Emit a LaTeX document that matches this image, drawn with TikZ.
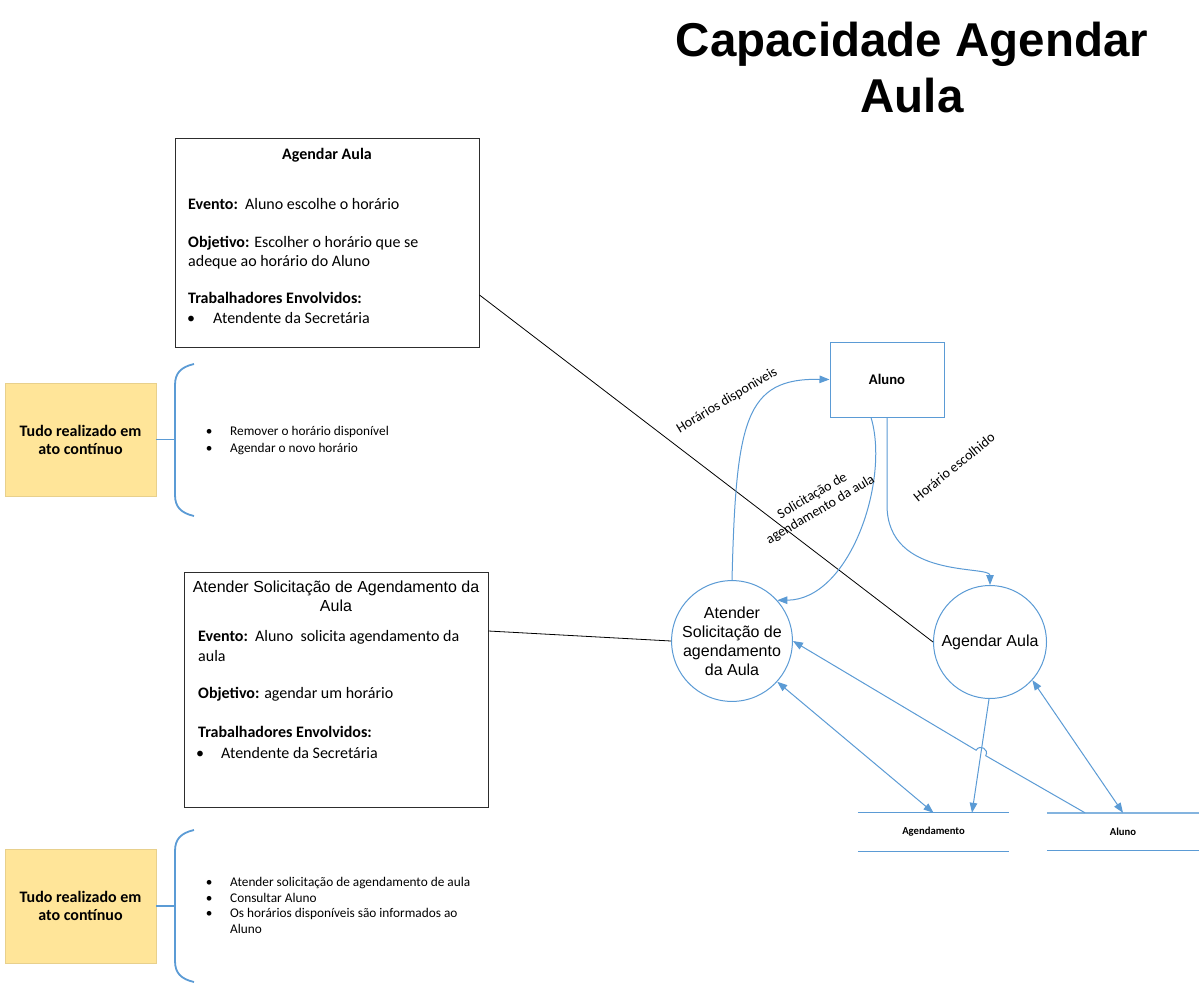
\documentclass[tikz,border=0pt]{standalone}
\usepackage{fontspec}
\setmainfont{Carlito}
\newfontfamily\arialf{Liberation Sans}
\usetikzlibrary{arrows.meta,calc}
\definecolor{flowblue}{RGB}{91,155,213}
\definecolor{boxgray}{RGB}{45,45,45}
\definecolor{noteyellow}{RGB}{255,229,153}
\definecolor{noteedge}{RGB}{232,208,140}
\newcommand{\bulitem}[2]{\makebox[0pt][c]{•}\hspace{#1}#2}
\begin{document}
\begin{tikzpicture}[x=1pt,y=-1pt,
  box/.style={draw=boxgray, line width=1pt, inner sep=0pt, fill=white},
  txt/.style={anchor=base west, inner sep=0pt, font=\fontsize{16}{19.5}\selectfont},
  ttl/.style={anchor=base, inner sep=0pt, font=\fontsize{16}{19.5}\selectfont\bfseries},
  atl/.style={anchor=base, inner sep=0pt, font=\arialf\fontsize{16}{19}\selectfont},
  note/.style={draw=noteedge, fill=noteyellow, line width=0.8pt, align=center, inner sep=0pt,
    font=\fontsize{16}{18}\selectfont\bfseries, minimum width=151pt},
  small/.style={anchor=base west, inner sep=0pt, font=\fontsize{13.3}{16}\selectfont},
  proc/.style={circle, draw=flowblue, line width=1pt, inner sep=0pt, align=center, fill=white,
    font=\arialf\fontsize{16}{19}\selectfont},
  ent/.style={draw=flowblue, line width=1pt, inner sep=0pt, fill=white,
    font=\fontsize{14.67}{16}\selectfont\bfseries},
  store/.style={inner sep=0pt, font=\fontsize{10.67}{12}\selectfont\bfseries},
  storeline/.style={draw=flowblue, line width=1.1pt},
  flow/.style={draw=flowblue, line width=1pt},
  tip/.style={-{Triangle[length=10pt,width=7.5pt]}},
  dtip/.style={{Triangle[length=10pt,width=7.5pt]}-{Triangle[length=10pt,width=7.5pt]}},
  conn/.style={draw=black, line width=0.8pt},
  brace/.style={draw=flowblue, line width=1.8pt},
  lbl/.style={inner sep=0pt, align=center, font=\fontsize{14}{16}\selectfont},
  bigtitle/.style={anchor=base, inner sep=0pt, font=\arialf\fontsize{47.5}{56}\selectfont\bfseries}
]
\useasboundingbox (0,0) rectangle (1199,990);
\fill[white] (0,0) rectangle (1199,990);

% Title
\node[bigtitle] (t1) at (912,56.7) {Capacidade Agendar};
\node[bigtitle] (t2) at (912,112.7) {Aula};

% Box 1
\node[box, minimum width=304pt, minimum height=209pt] (b1) at (327,242.5) {};
\node[ttl] (b1t) at (327,159) {Agendar Aula};
\node[txt] (b1e) at (188,209) {\textbf{Evento:}\ \ Aluno escolhe o horário};
\node[txt] (b1o) at (188,247) {\textbf{Objetivo:} Escolher o horário que se};
\node[txt] (b1o2) at (188,266) {adeque ao horário do Aluno};
\node[txt] (b1w) at (188,303) {\textbf{Trabalhadores Envolvidos:}};
\node[txt] (b1b) at (191,323) {\bulitem{22pt}{Atendente da Secretária}};

% Box 2
\node[box, minimum width=304pt, minimum height=235pt] (b2) at (336,689.5) {};
\node[atl] (b2t) at (336,592) {Atender Solicitação de Agendamento da};
\node[atl] (b2t2) at (336,611) {Aula};
\node[txt] (b2e) at (198,641) {\textbf{Evento:}\ \ Aluno\ \ solicita agendamento da};
\node[txt] (b2e2) at (198,661) {aula};
\node[txt] (b2o) at (198,698) {\textbf{Objetivo:} agendar um horário};
\node[txt] (b2w) at (198,737) {\textbf{Trabalhadores Envolvidos:}};
\node[txt] (b2b) at (200,758) {\bulitem{21pt}{Atendente da Secretária}};

% Notes and braces
\node[note, minimum height=113pt] (y1) at (80.5,439.5) {Tudo realizado em\\ato contínuo};
\draw[brace] (194,364) .. controls (181,367) and (175,373) .. (175,385) -- (175,495) .. controls (175,507) and (181,513) .. (194,516);
\draw[brace] (y1.east) -- (175,439.5);
\node[small] (l1a) at (209,435) {\bulitem{21pt}{Remover o horário disponível}};
\node[small] (l1b) at (209,452) {\bulitem{21pt}{Agendar o novo horário}};

\node[note, minimum height=114pt] (y2) at (80.5,906) {Tudo realizado em\\ato contínuo};
\draw[brace] (194,830) .. controls (181,833) and (175,839) .. (175,851) -- (175,961) .. controls (175,973) and (181,979) .. (194,982);
\draw[brace] (y2.east) -- (175,906);
\node[small] (l2a) at (209,886) {\bulitem{21pt}{Atender solicitação de agendamento de aula}};
\node[small] (l2b) at (209,902) {\bulitem{21pt}{Consultar Aluno}};
\node[small] (l2c) at (209,917) {\bulitem{21pt}{Os horários disponíveis são informados ao}};
\node[small] (l2d) at (230,933) {Aluno};

% Entity
\node[ent, minimum width=114pt, minimum height=75pt] (a) at (887,379.5) {Aluno};

% Processes
\node[proc, minimum size=110pt] (c1) at (732,641) {Atender\\Solicitação de\\agendamento\\da Aula};
\node[proc, minimum size=113pt] (c2) at (990,642) {Agendar Aula};

% Data stores
\node[store, minimum width=151pt, minimum height=38pt] (sA) at (933.5,832) {Agendamento};
\draw[storeline] (sA.north west) -- (sA.north east);
\draw[storeline] (sA.south west) -- (sA.south east);
\node[store, minimum width=152pt, minimum height=37pt] (sU) at (1123,831.5) {Aluno};
\draw[storeline, line width=1.8pt, draw=flowblue!75] (sU.north west) -- (sU.north east);
\draw[storeline] (sU.south west) -- (sU.south east);

% Black association lines
\draw[conn] ([yshift=-52.5pt]b1.east) -- (c2.west);
\draw[conn] ([yshift=58.5pt]b2.east) -- (c1.west);

% Flows
\draw[flow,tip] (c1.north) .. controls (736,420) and (745,378) .. (a.west);
\draw[flow,tip] ([xshift=-16pt]a.south) .. controls (890,480) and (850,600) .. (c1.42);
\draw[flow,tip] (a.south) -- (887,505) .. controls (887,580) and (990,565) .. (c2.north);
\draw[flow,dtip] (c1.-42) -- (sA.north);
\draw[flow,tip] (c2.-91) -- ($(sA.north)+(38.5,0)$);
\draw[flow,dtip] (c2.-42) -- (sU.north);
\coordinate (hopA) at (985.7,755.7);
\coordinate (hopB) at (976.1,750.2);
\draw[flow,tip] ($(sU.north)+(-38,0)$) -- (hopA) .. controls (989.4,749.3) and (979.8,743.9) .. (hopB) -- (c1.east);

% Flow labels
\node[lbl, rotate=31] (f1) at (727,400.5) {Horários disponiveis};
\node[lbl, rotate=30.5] (f2) at (816.5,503) {Solicitação de\\agendamento da aula};
\node[lbl, rotate=39] (f3) at (954,467) {Horário escolhido};
\end{tikzpicture}
\end{document}
